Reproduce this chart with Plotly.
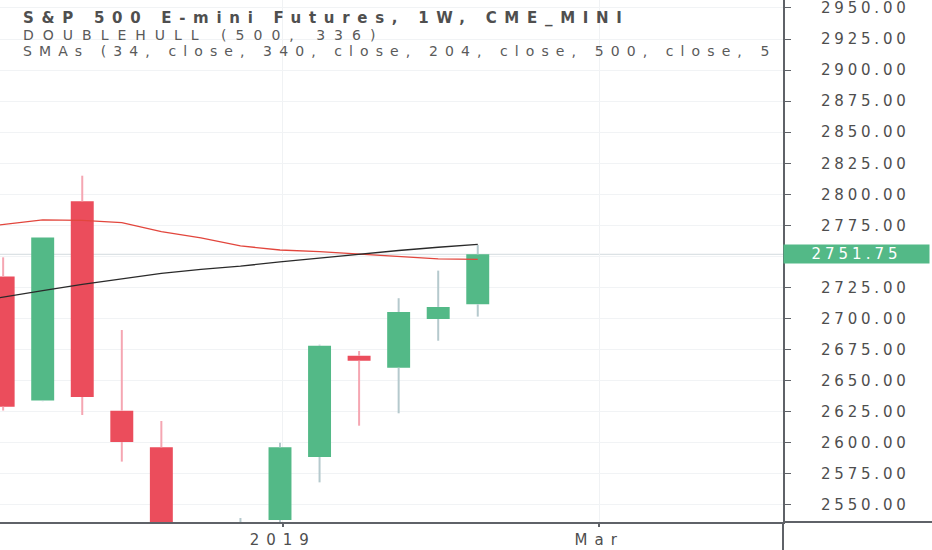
import plotly.graph_objects as go

# ---------------- data (weekly bars) ----------------
dates = ["2018-11-12", "2018-11-19", "2018-11-26", "2018-12-03", "2018-12-10",
         "2018-12-17", "2018-12-24", "2018-12-31", "2019-01-07", "2019-01-14",
         "2019-01-21", "2019-01-28", "2019-02-04", "2019-02-11"]
opens = [2781.0, 2733.8, 2634.0, 2794.4, 2625.9, 2596.4, 2420.0, 2490.0,
         2537.9, 2588.6, 2670.0, 2660.5, 2699.7, 2711.5]
highs = [2800.0, 2749.3, 2765.5, 2815.0, 2690.8, 2617.6, 2520.0, 2539.5,
         2600.0, 2679.0, 2673.9, 2716.4, 2738.6, 2759.3]
lows = [2670.0, 2626.0, 2633.5, 2622.4, 2584.9, 2410.0, 2316.0, 2443.0,
        2525.0, 2568.2, 2613.8, 2623.8, 2682.2, 2701.6]
closes = [2736.0, 2629.1, 2765.2, 2636.9, 2600.7, 2420.0, 2489.0, 2531.0,
          2596.4, 2678.2, 2666.0, 2705.3, 2709.4, 2751.75]
sma_red = [2772.0, 2775.5, 2779.4, 2779.0, 2777.2, 2770.0, 2764.9, 2758.5,
           2755.2, 2753.9, 2752.0, 2749.8, 2748.0, 2747.7]
hull_black = [2712.0, 2717.5, 2722.5, 2727.5, 2732.2, 2736.4, 2739.6, 2742.2,
              2745.6, 2748.8, 2752.0, 2754.8, 2757.4, 2759.8]
last_price = 2751.75
price_ticks = [2550, 2575, 2600, 2625, 2650, 2675, 2700, 2725, 2750, 2775,
               2800, 2825, 2850, 2875, 2900, 2925, 2950]
time_tick_vals = ["2019-01-07 12:00", "2019-03-04 12:00"]
time_tick_text = ["2019", "Mar"]
title_lines = ["S&P 500 E-mini Futures, 1W, CME_MINI",
               "DOUBLEHULL (500, 336)",
               "SMAs (34, close, 340, close, 204, close, 500, close, 5"]

# ---------------- styles ----------------
GREEN = "#53b987"
RED = "#eb4d5c"
GREEN_WICK = "#b5c9cd"
RED_WICK = "#f5a6b2"
AXIS = "#5f6268"
TXT = "#4e4e4e"
FONT = "DejaVu Sans"


def spaced(s, ls):
    return '<span style="letter-spacing:%.1fpx">%s</span>' % (ls, s)


def wicks(rising):
    xs, ys = [], []
    for d, o, h, l, c in zip(dates, opens, highs, lows, closes):
        if (c >= o) == rising:
            top, bot = max(o, c), min(o, c)
            xs += [d, d, None, d, d, None]
            ys += [h, top, None, bot, l, None]
    return xs, ys


fig = go.Figure()

for rising, col in ((True, GREEN_WICK), (False, RED_WICK)):
    wx, wy = wicks(rising)
    fig.add_trace(go.Scatter(x=wx, y=wy, mode="lines",
                             line=dict(color=col, width=2),
                             hoverinfo="skip", showlegend=False))

fig.add_trace(go.Candlestick(
    x=dates, open=opens, high=highs, low=lows, close=closes,
    increasing=dict(fillcolor=GREEN, line=dict(color=GREEN, width=0)),
    decreasing=dict(fillcolor=RED, line=dict(color=RED, width=0)),
    whiskerwidth=0, showlegend=False, hoverinfo="skip"))

fig.add_trace(go.Scatter(x=dates, y=sma_red, mode="lines",
                         line=dict(color="#e2463d", width=1.3),
                         hoverinfo="skip", showlegend=False))
fig.add_trace(go.Scatter(x=dates, y=hull_black, mode="lines",
                         line=dict(color="#2a2a2a", width=1.3),
                         hoverinfo="skip", showlegend=False))

W, H = 932, 550
ML, MR, MT, MB = 0, 149, 0, 28
PW, PH = W - ML - MR, H - MT - MB

annotations = []
title_specs = [  # (y centre px, font size, letter spacing, colour, bold)
    (17.8, 15, 7.7, "#4f4f4f", True),
    (34.8, 14, 9.0, "#5a5a5a", False),
    (51.2, 14, 7.1, "#5a5a5a", False),
]
for txt, (yy, fs, ls, col, bold) in zip(title_lines, title_specs):
    body = ("<b>%s</b>" % txt) if bold else txt
    annotations.append(dict(
        xref="paper", yref="paper", x=21 / PW, y=1 - yy / PH,
        xanchor="left", yanchor="middle", showarrow=False,
        text=spaced(body, ls), font=dict(family=FONT, size=fs, color=col)))

annotations.append(dict(
    xref="paper", yref="y", x=1, y=last_price, xanchor="left", yanchor="middle",
    showarrow=False, text=spaced("%.2f" % last_price, 4.0),
    width=145, height=18, borderpad=0, bgcolor=GREEN, align="center",
    font=dict(family=FONT, size=15, color="white")))

shapes = [
    dict(type="line", xref="paper", yref="y", x0=0, x1=1,
         y0=last_price, y1=last_price, layer="below",
         line=dict(color="#d3dbde", width=1)),
    dict(type="line", xref="paper", yref="paper", x0=1, x1=W / PW, y0=0, y1=0,
         line=dict(color=AXIS, width=2)),
    dict(type="line", xref="paper", yref="paper", x0=1, x1=1, y0=0, y1=-MB / PH,
         line=dict(color=AXIS, width=2)),
]

fig.update_layout(
    width=W, height=H, margin=dict(l=ML, r=MR, t=MT, b=MB, autoexpand=False),
    paper_bgcolor="white", plot_bgcolor="white", showlegend=False,
    boxgap=0.42, boxgroupgap=0, boxmode="overlay",
    annotations=annotations, shapes=shapes,
    xaxis=dict(type="date", range=["2018-11-18 10:36", "2019-04-06 00:39"],
               rangeslider=dict(visible=False), automargin=False,
               tickmode="array", tickvals=time_tick_vals,
               ticktext=[spaced(t, 7) for t in time_tick_text],
               showgrid=True, gridcolor="#f0f2f4", gridwidth=1,
               showline=True, linecolor=AXIS, linewidth=2,
               ticks="outside", ticklen=3, tickcolor=AXIS, tickwidth=2,
               tickfont=dict(family=FONT, size=15, color=TXT),
               ticklabeloverflow="allow",
               zeroline=False, fixedrange=True),
    yaxis=dict(side="right", range=[2536.3, 2956.4], automargin=False,
               tickmode="array", tickvals=price_ticks,
               ticktext=[("" if v == 2750 else spaced("%.2f" % v, 3.8))
                         for v in price_ticks],
               showgrid=True, gridcolor="#f1f3f5", gridwidth=1,
               showline=True, linecolor=AXIS, linewidth=2,
               ticks="outside", ticklen=6, tickcolor=AXIS, tickwidth=1,
               ticklabelstandoff=27, ticklabeloverflow="allow",
               tickfont=dict(family=FONT, size=15, color=TXT),
               zeroline=False, fixedrange=True),
)

fig.write_html("out.html",
               config={"displayModeBar": False, "staticPlot": True},
               post_script="document.body.style.margin='0';"
                           "document.body.style.overflow='hidden';")
